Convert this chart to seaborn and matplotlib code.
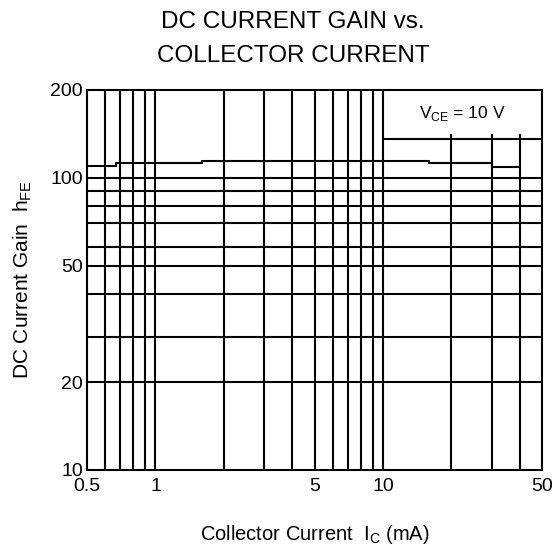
import matplotlib
matplotlib.use("Agg")
import matplotlib.pyplot as plt
import seaborn as sns
import pandas as pd

# ---- data ----
ic_ma = [0.5, 0.67, 1.6, 16, 30, 40]            # collector current (mA), step breakpoints
hfe = [110, 112.7, 114.3, 112.7, 109.3, 109.3]   # DC current gain

x_grid_full = [0.6, 0.7, 0.8, 0.9, 1, 2, 3, 4, 5, 6, 7, 8, 9, 10]
x_grid_short = [20, 30, 40]
y_grid = [20, 28.5, 40, 50, 58, 70, 80, 90, 100]
box_level = 136
x_ticks = [0.5, 1, 5, 10, 50]
x_ticklabels = ["0.5", "1", "5", "10", "50"]
y_ticks = [10, 20, 50, 100, 200]
y_ticklabels = ["10", "20", "50", "100", "200"]

sns.set_theme(style="white")
plt.rcParams["font.family"] = ["Liberation Sans", "DejaVu Sans"]
plt.rcParams["mathtext.fontset"] = "custom"
plt.rcParams["mathtext.rm"] = "Liberation Sans"

fig = plt.figure(figsize=(5.59, 5.46), dpi=100)
ax = fig.add_axes([87 / 559, 1 - 470 / 546, (542 - 87) / 559, (470 - 90) / 546])

ax.set_xscale("log")
ax.set_yscale("log")
ax.set_xlim(0.5, 50)
ax.set_ylim(10, 200)

lw = 1.5
for xv in x_grid_full:
    ax.axvline(xv, color="black", lw=lw, zorder=1)
ax.vlines(x_grid_short, 10, 141, color="black", lw=lw, zorder=1)
for yv in y_grid:
    ax.axhline(yv, color="black", lw=lw, zorder=1)
ax.hlines(box_level, 10, 50, color="black", lw=lw, zorder=1)

df = pd.DataFrame({"ic": ic_ma, "hfe": hfe})
sns.lineplot(data=df, x="ic", y="hfe", ax=ax, color="black", lw=lw,
             drawstyle="steps-post", estimator=None, sort=False, zorder=2)

ax.text(22.4, 166, r"V$_{\rm CE}$ = 10 V", ha="center", va="center",
        fontsize=12.5, color="black")

ax.set_xticks(x_ticks)
ax.set_xticklabels(x_ticklabels)
ax.set_yticks(y_ticks)
ax.set_yticklabels(y_ticklabels)
ax.minorticks_off()
ax.tick_params(axis="both", length=0, labelsize=14, colors="black")
ax.tick_params(axis="x", pad=6)
ax.tick_params(axis="y", pad=3)

for sp in ax.spines.values():
    sp.set_visible(True)
    sp.set_color("black")
    sp.set_linewidth(lw)

ax.set_xlabel(r"Collector Current  I$_{\rm C}$ (mA)", fontsize=14.5, labelpad=20, color="black")
ax.set_ylabel(r"DC Current Gain  h$_{\rm FE}$", fontsize=15, labelpad=12, color="black")

fig.text(293 / 559, 1 - 22 / 546, "DC CURRENT GAIN vs.", ha="center", va="center",
         fontsize=17.5, color="black")
fig.text(293 / 559, 1 - 56 / 546, "COLLECTOR CURRENT", ha="center", va="center",
         fontsize=17.5, color="black")

fig.savefig("out.png", dpi=100, facecolor="white")
